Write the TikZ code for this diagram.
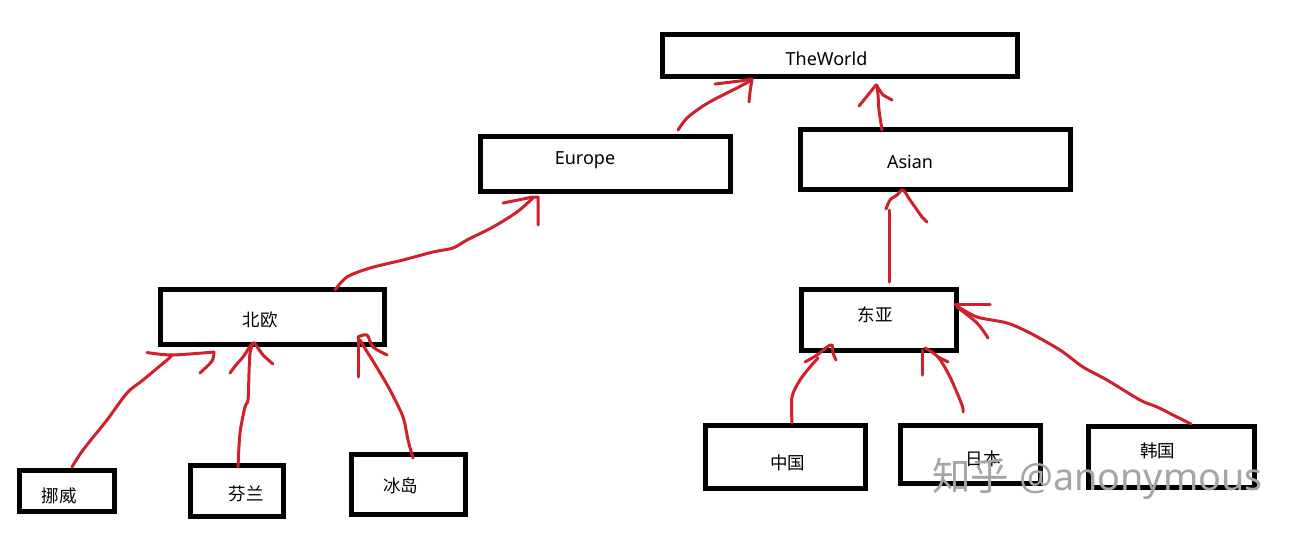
\documentclass[tikz,border=0pt]{standalone}
\usepackage{fontspec}
\setmainfont{Noto Sans}
\newfontfamily\cjk{Noto Sans CJK SC}
\definecolor{inkred}{RGB}{208,32,44}
\definecolor{wmgray}{RGB}{165,165,165}
\begin{document}
\begin{tikzpicture}[x=1pt,y=-1pt,
  box/.style={draw=black,line width=5pt,inner sep=0pt,fill=white},
  lat/.style={anchor=base,inner sep=0pt,font=\fontsize{18}{18}\selectfont},
  han/.style={anchor=base,inner sep=0pt,font=\cjk\fontsize{17.5}{17.5}\selectfont},
  stroke/.style={draw=inkred,line width=3pt,line cap=round,line join=round}]
\useasboundingbox[fill=white] (0,0) rectangle (1295,536);

% boxes
\node[box,minimum width=355pt,minimum height=42pt] (world) at (840,55.5) {};
\node[box,minimum width=250pt,minimum height=55pt] (europe) at (605.5,164) {};
\node[box,minimum width=270pt,minimum height=60pt] (asian) at (935.5,159.5) {};
\node[box,minimum width=224pt,minimum height=55pt] (beiou) at (272.5,317) {};
\node[box,minimum width=155pt,minimum height=61pt] (dongya) at (879,320) {};
\node[box,minimum width=95pt,minimum height=41pt] (nuowei) at (67,491) {};
\node[box,minimum width=93pt,minimum height=51pt] (fenlan) at (237,491) {};
\node[box,minimum width=114pt,minimum height=60pt] (bingdao) at (408.5,484.5) {};
\node[box,minimum width=160pt,minimum height=63pt] (zhongguo) at (785.5,457) {};
\node[box,minimum width=140pt,minimum height=58pt] (riben) at (970.5,454.5) {};
\node[box,minimum width=166pt,minimum height=61pt] (hanguo) at (1171.5,457) {};

% labels
\node[lat] (tWorld) at (826.5,65) {TheWorld};
\node[lat] (tEurope) at (585,164) {Europe};
\node[lat] (tAsian) at (910,168) {Asian};
\node[han] (tBeiou) at (260,326) {北欧};
\node[han] (tDongya) at (875,321.5) {东亚};
\node[han] (tNuowei) at (59,502) {挪威};
\node[han] (tFenlan) at (246,500.5) {芬兰};
\node[han] (tBingdao) at (400.5,492) {冰岛};
\node[han] (tZhongguo) at (787.5,469.5) {中国};
\node[han] (tRiben) at (983,465) {日本};
\node[han] (tHanguo) at (1157.5,457.5) {韩国};

% hand-drawn arrows
% Europe -> TheWorld
\draw[stroke] plot[smooth] coordinates {(678,130) (687,118) (703,106) (717,98) (735,89) (752,80)};
\draw[stroke] (715,84) -- (740,81) -- (752,79) -- (750,92) -- (749,102);
% Asian -> TheWorld
\draw[stroke] plot[smooth] coordinates {(882,130) (879,110) (878,95) (877,85)};
\draw[stroke] (859,106) -- (868,95) -- (876,85) -- (883,95) -- (892,100);
% 北欧 -> Europe
\draw[stroke] plot[smooth] coordinates {(335,290) (347,277) (370,268) (403,260) (433,252) (453,248) (467,240) (493,227) (517,212) (533,198)};
\draw[stroke] (503,203) -- (533,197) -- (538,197) -- (538,225);
% 东亚 -> Asian
\draw[stroke] (889,282) -- (889,210);
\draw[stroke] plot[smooth] coordinates {(886,209) (890,200) (897,195) (903,190) (910,200) (915,207) (922,217) (927,222)};
% 挪威 -> 北欧
\draw[stroke] plot[smooth] coordinates {(72,467) (83,450) (107,420) (127,393) (143,380) (167,360) (172,355)};
\draw[stroke] plot[smooth] coordinates {(147,352.5) (172,355) (214,352)};
\draw[stroke] plot[smooth] coordinates {(214,352) (212,361) (200,373)};
% 芬兰 -> 北欧
\draw[stroke] plot[smooth] coordinates {(238,467) (240,433) (245,407) (248,400) (249,373) (250,353) (253,343)};
\draw[stroke] plot[smooth] coordinates {(230,373) (236,365) (243,357) (253,343) (258,348) (263,355) (273,364)};
% 冰岛 -> 北欧
\draw[stroke] plot[smooth] coordinates {(413,458) (408,440) (403,417) (390,390) (376,366) (366,350) (360,340)};
\draw[stroke] (358,377) -- (358,337);
\draw[stroke] plot[smooth] coordinates {(358,337) (367,335) (373,347) (387,355)};
% 中国 -> 东亚
\draw[stroke] plot[smooth] coordinates {(792,423) (792,397) (800,380) (810,367) (818,358)};
\draw[stroke] plot[smooth] coordinates {(805,362) (817,355) (827,347) (832,345) (833,353) (836,360)};
% 日本 -> 东亚
\draw[stroke] (922,375) -- (922,350);
\draw[stroke] plot[smooth] coordinates {(963,412) (962,405) (950,377) (938,357) (925,348)};
\draw[stroke] (938,357) -- (948,362);
% 韩国 -> 东亚
\draw[stroke] plot[smooth] coordinates {(1191,424) (1177,417) (1157,407) (1140,400) (1107,380) (1083,367) (1060,350) (1030,333) (1007,323) (977,317) (957,306)};
\draw[stroke] (955,304) -- (990,304);
\draw[stroke] plot[smooth] coordinates {(957,307) (977,323) (988,338)};

% watermark
\node[anchor=base west,inner sep=0pt,text=wmgray,font=\fontsize{37.8}{37.8}\selectfont] (wm) at (932,490) {{\cjk\fontsize{38.5}{38.5}\selectfont 知乎} @anonymous};
\end{tikzpicture}
\end{document}
